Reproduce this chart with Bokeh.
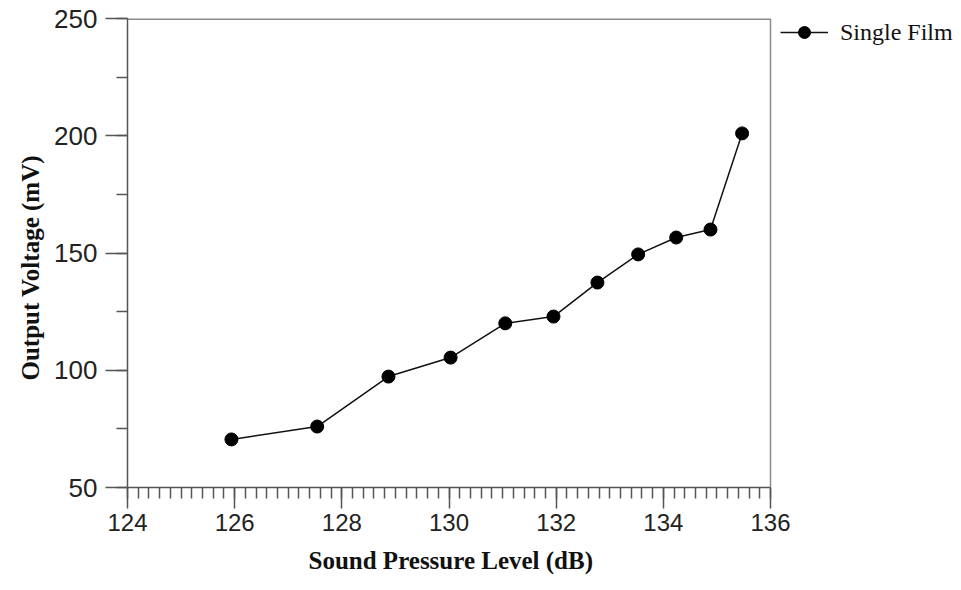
from bokeh.plotting import figure
from bokeh.models import SingleIntervalTicker, Range1d, Legend, LegendItem, Span, Title
from bokeh.embed import file_html
from bokeh.resources import INLINE

spl_db = [125.94, 127.54, 128.87, 130.03, 131.05, 131.95, 132.77, 133.53, 134.24, 134.88, 135.47]
voltage_mv = [70.5, 76.0, 97.3, 105.4, 120.0, 122.9, 137.4, 149.4, 156.6, 160.0, 201.0]
series_name = "Single Film"
x_title = "Sound Pressure Level (dB)"
y_title = "Output Voltage (mV)"
x_lo, x_hi = 124, 136
y_lo, y_hi = 50, 250

# frame extended to the right so that the legend can sit beside the axes box
px_per_db = (770 - 127) / (x_hi - x_lo)
x_view_end = x_lo + (958 - 127) / px_per_db

p = figure(width=961, height=590, output_backend="svg", toolbar_location=None,
           x_range=Range1d(x_lo, x_view_end), y_range=Range1d(y_lo, y_hi),
           min_border_left=127, min_border_right=3, min_border_top=18, min_border_bottom=103)

p.background_fill_color = "white"
p.border_fill_color = "white"
p.outline_line_color = None
p.xgrid.visible = False
p.ygrid.visible = False

# box border (top and right) of the axes area
p.segment(x0=[x_lo], y0=[y_hi], x1=[x_hi], y1=[y_hi], line_color="#8a8a8a", line_width=3)
p.add_layout(Span(location=x_hi, dimension="height", line_color="#8a8a8a", line_width=1.5))

# line + markers
ln = p.line(spl_db, voltage_mv, line_color="#111111", line_width=1.5)
sc = p.scatter(spl_db, voltage_mv, size=13, fill_color="black", line_color="black")

legend = Legend(items=[LegendItem(label=series_name, renderers=[ln, sc])],
                location=(653, 440), padding=0, margin=0, spacing=0,
                glyph_width=48, glyph_height=30, label_height=30, label_standoff=12,
                label_text_font="Liberation Serif", label_text_font_size="24px",
                label_text_color="#111111",
                border_line_color=None, background_fill_alpha=0)
p.add_layout(legend, "center")

# axis titles (placed as titles so they can be offset like the reference)
p.add_layout(Title(text=x_title, align="left", offset=181, standoff=22,
                   text_font="Liberation Serif", text_font_style="bold",
                   text_font_size="25px", text_color="#111111"), "below")
p.add_layout(Title(text=y_title, align="left", offset=107, standoff=16,
                   text_font="Liberation Serif", text_font_style="bold",
                   text_font_size="25px", text_color="#111111"), "left")

# x axis
xa = p.xaxis[0]
xa.bounds = (x_lo, x_hi)
xa.ticker = SingleIntervalTicker(interval=2, num_minor_ticks=10)
xa.major_label_text_font = "Liberation Sans"
xa.major_label_text_font_size = "24px"
xa.major_label_text_color = "#222222"
xa.major_label_standoff = 5
xa.major_tick_in = 0
xa.major_tick_out = 21
xa.minor_tick_in = 0
xa.minor_tick_out = 11
xa.axis_line_color = "#555555"
xa.axis_line_width = 1.5
xa.major_tick_line_color = "#555555"
xa.major_tick_line_width = 1.5
xa.minor_tick_line_color = "#555555"
xa.minor_tick_line_width = 1.5

# y axis
ya = p.yaxis[0]
ya.ticker = SingleIntervalTicker(interval=50, num_minor_ticks=2)
ya.major_label_text_font = "Liberation Sans"
ya.major_label_text_font_size = "26px"
ya.major_label_text_color = "#222222"
ya.major_label_standoff = 8
ya.major_tick_in = 0
ya.major_tick_out = 22
ya.minor_tick_in = 0
ya.minor_tick_out = 11
ya.axis_line_color = "#555555"
ya.axis_line_width = 1.5
ya.major_tick_line_color = "#555555"
ya.major_tick_line_width = 1.5
ya.minor_tick_line_color = "#555555"
ya.minor_tick_line_width = 1.5

open("out.html", "w").write(file_html(p, INLINE))
